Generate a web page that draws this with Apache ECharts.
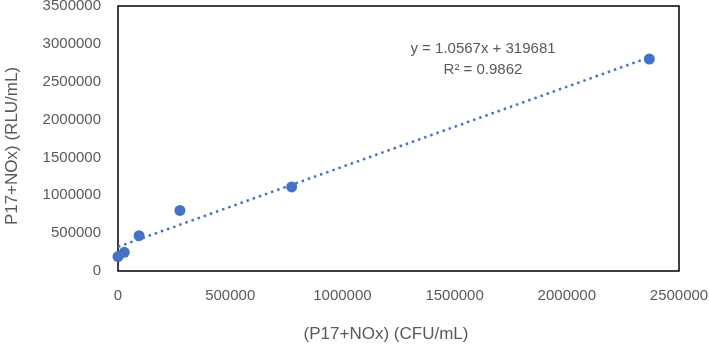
<!DOCTYPE html>
<html>
<head>
<meta charset="utf-8">
<script src="https://cdn.jsdelivr.net/npm/echarts@6/dist/echarts.min.js"></script>
<style>
  html, body { margin: 0; padding: 0; background: #fff; }
  #main { width: 709px; height: 344px; }
</style>
</head>
<body>
<div id="main"></div>
<script>
// measured points (CFU/mL, RLU/mL)
var xValues = [0, 28000, 94000, 276000, 774000, 2368000];
var yValues = [190000, 247000, 466000, 800000, 1110000, 2800000];
var xTicks = [0, 500000, 1000000, 1500000, 2000000, 2500000];
var yTicks = [0, 500000, 1000000, 1500000, 2000000, 2500000, 3000000, 3500000];
// linear trendline reported on the chart
var slope = 1.0567;
var intercept = 319681;
var rSquared = 0.9862;
var xTitle = '(P17+NOx) (CFU/mL)';
var yTitle = 'P17+NOx) (RLU/mL)';

var chartDom = document.getElementById('main');
var myChart = echarts.init(chartDom);
var option;

var font = 'Liberation Sans';
var textColor = '#595959';
var blue = '#4472C4';

var points = xValues.map(function (x, i) { return [x, yValues[i]]; });
var xMaxData = Math.max.apply(null, xValues);
var trend = [
    [0, intercept],
    [xMaxData, slope * xMaxData + intercept]
];

function plain(v) { return String(v); }

option = {
    animation: false,
    backgroundColor: '#fff',
    grid: {
        left: 118,
        top: 6,
        right: 30,
        bottom: 73,
        outerBoundsMode: 'none',
        containLabel: false,
        show: true,
        borderColor: '#000',
        borderWidth: 1.5
    },
    xAxis: {
        type: 'value',
        min: xTicks[0],
        max: xTicks[xTicks.length - 1],
        interval: 500000,
        axisLine: { show: false },
        axisTick: { show: false },
        splitLine: { show: false },
        axisLabel: { fontFamily: font, fontSize: 15, color: textColor, margin: 17, formatter: plain }
    },
    yAxis: {
        type: 'value',
        min: yTicks[0],
        max: yTicks[yTicks.length - 1],
        interval: 500000,
        axisLine: { show: false },
        axisTick: { show: false },
        splitLine: { show: false },
        axisLabel: { fontFamily: font, fontSize: 15, color: textColor, margin: 17, formatter: plain }
    },
    graphic: [
        {
            type: 'text',
            x: 483,
            y: 38,
            style: {
                text: 'y = ' + slope + 'x + ' + intercept + '\nR² = ' + rSquared,
                align: 'center',
                lineHeight: 21,
                font: '15px "Liberation Sans"',
                fill: textColor
            }
        },
        {
            type: 'text',
            x: 386,
            y: 334,
            style: {
                text: xTitle,
                align: 'center',
                verticalAlign: 'middle',
                font: '17px "Liberation Sans"',
                fill: textColor
            }
        },
        {
            type: 'text',
            x: 12,
            y: 146,
            rotation: Math.PI / 2,
            style: {
                text: yTitle,
                align: 'center',
                verticalAlign: 'middle',
                font: '17px "Liberation Sans"',
                fill: textColor
            }
        }
    ],
    series: [
        {
            type: 'line',
            data: trend,
            symbol: 'none',
            silent: true,
            lineStyle: { color: blue, width: 2.5, type: [2.5, 4] },
            z: 1
        },
        {
            type: 'scatter',
            data: points,
            symbolSize: 11,
            itemStyle: { color: blue, opacity: 1 },
            z: 2
        }
    ]
};

option && myChart.setOption(option);
</script>
</body>
</html>
